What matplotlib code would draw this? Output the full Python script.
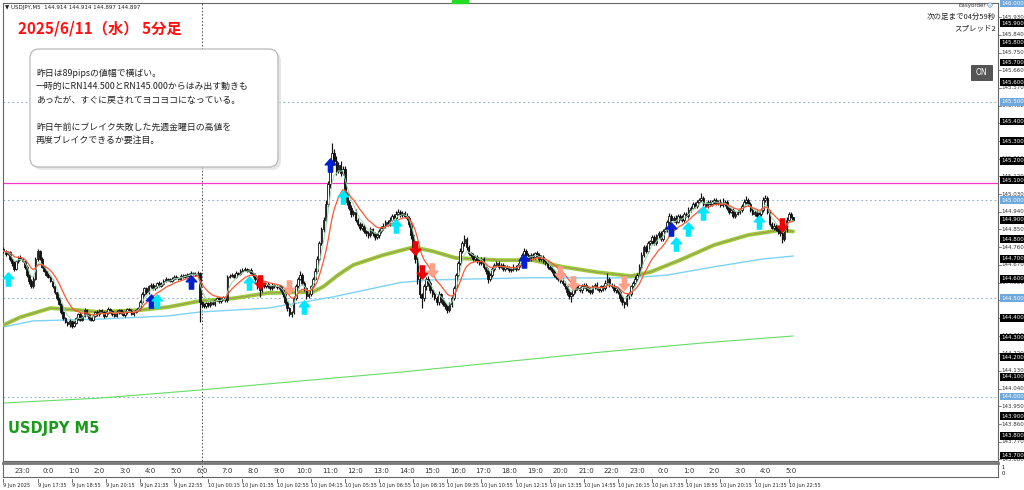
import numpy as np
import pandas as pd
import matplotlib
matplotlib.use("Agg")
import matplotlib.pyplot as plt
from matplotlib.path import Path
from matplotlib.patches import FancyBboxPatch, Rectangle

plt.rcParams['font.family'] = ['Noto Sans CJK JP', 'DejaVu Sans']

BASE = 144.0  # closes / wicks below are in 0.001 units above 144.000

closes = [
    740, 725, 735, 700, 680, 650, 690, 710, 700, 690, 660, 620, 590, 560, 600, 700, 740,
    700, 660, 640, 620, 610, 590, 560, 530, 500, 470,
    430, 400, 380, 370, 385, 360, 375, 400, 420, 390, 410, 440, 420, 400, 390, 410,
    430, 420, 440, 430, 410, 425, 445, 435, 420, 410, 430, 440, 425, 415, 430, 445, 435, 420, 430, 440, 450,
    480, 520, 550, 530, 560, 570, 550, 560, 580, 565, 575, 590,
    600, 595, 590, 600, 610, 605, 600, 615, 610, 620, 615, 625, 630, 625, 620, 630,
    480, 470, 460, 475, 465, 480, 470, 490, 500, 485, 495, 505, 490,
    610, 615, 620, 610, 630, 625, 640, 645, 650, 640, 645, 630, 620, 600, 560, 540,
    570, 560, 575, 560, 550, 570, 560, 555, 560, 540, 520, 480, 450, 420, 430,
    500, 560, 600, 620, 580, 550, 510, 520, 560, 600, 640, 700, 780, 850, 900,
    980, 1080, 1180, 1240, 1200, 1150, 1180, 1140, 1160, 1030, 990,
    960, 930, 940, 900, 880, 860, 870, 840, 830, 820, 850, 830, 810, 820, 840,
    860, 870, 890, 880, 900, 920, 910, 930, 940, 925, 935, 920, 910,
    880, 820, 760, 700, 600, 520, 500, 560, 600, 580, 540, 520,
    500, 480, 520, 490, 470, 460, 440, 470, 500, 550, 620, 680, 740, 780, 800, 760, 730,
    720, 700, 710, 690, 680, 700, 660, 640, 600, 620, 650,
    670, 680, 660, 670, 650, 660, 655, 645, 650, 660, 650, 670, 700, 720, 740, 720,
    700, 720, 710, 730, 720, 700, 710, 690, 680, 660, 650, 640, 620, 610, 600, 590, 580,
    560, 530, 510, 520, 540,
    560, 550, 540, 560, 570, 550, 540, 530, 560, 570, 550, 540, 560, 550, 580, 600,
    570, 560, 540, 550, 530, 500, 480, 470, 510, 520, 560, 580, 600, 620,
    660, 720, 760, 740, 780, 790, 810, 780, 820, 830, 800, 840, 850, 890, 920, 900,
    910, 890, 920, 910, 900, 930, 920, 950, 960, 980, 970, 990, 1000, 1010,
    980, 970, 990, 980, 990, 1000, 985, 990, 975, 980, 990,
    960, 940, 950, 920, 930, 940, 950, 970, 990, 1000, 980,
    950, 930, 940, 920, 930, 950, 1000, 1010, 940, 880, 860, 870, 850,
    840, 830, 800, 850, 900, 930, 914, 897,
]

wick_up = [
    10, 6, 8, 5, 7, 12, 6, 5, 8, 6, 4, 7, 5, 6, 15, 12, 10, 6, 8, 5,
    6, 8, 5, 7, 6, 4, 8, 5, 6, 7, 5, 9, 6, 8, 5, 7, 10, 6, 8, 5,
    7, 5, 8, 6, 9, 5, 7, 6, 8, 10, 5, 6, 7, 9, 5, 6, 8, 7, 5, 6,
    8, 6, 7, 5, 9, 12, 8, 6, 7, 10, 6, 8, 5, 9, 6, 7, 8, 5, 6, 7,
    6, 8, 5, 7, 9, 6, 8, 5, 7, 6, 8, 10, 6, 5, 7, 6, 8, 5, 6, 7,
    8, 5, 6, 7, 9, 10, 6, 8, 5, 7, 6, 8, 7, 9, 6, 5, 8, 6, 7, 5,
    7, 6, 8, 5, 6, 7, 9, 5, 6, 8, 7, 6, 5, 8, 6, 7, 10, 12, 8, 20,
    10, 6, 8, 7, 9, 10, 12, 15, 10, 12, 15, 20, 18, 15, 50, 20, 25, 15, 20, 12,
    15, 12, 10, 15, 8, 12, 10, 8, 12, 10, 8, 12, 15, 10, 8, 12, 10, 8, 12, 10,
    8, 12, 10, 8, 12, 15, 10, 8, 10, 12, 8, 10, 12, 8, 10, 12, 8, 15, 10, 12,
    10, 8, 12, 10, 15, 8, 10, 12, 8, 10, 12, 15, 10, 12, 15, 12, 20, 10, 12, 8,
    10, 12, 8, 10, 12, 8, 10, 12, 10, 8, 10, 12, 8, 10, 12, 8, 10, 8, 10, 12,
    8, 10, 12, 10, 15, 10, 8, 12, 10, 8, 12, 10, 8, 12, 10, 8, 10, 12, 8, 10,
    8, 10, 12, 8, 10, 12, 10, 8, 12, 10, 8, 12, 10, 8, 10, 12, 8, 10, 12, 8,
    10, 8, 12, 30, 10, 8, 12, 10, 8, 10, 12, 8, 10, 12, 8, 10, 12, 10, 12, 15,
    10, 12, 10, 8, 12, 10, 8, 12, 10, 15, 12, 10, 15, 10, 8, 12, 10, 8, 12, 10,
    8, 12, 10, 8, 12, 10, 12, 25, 10, 8, 12, 10, 8, 12, 10, 8, 15, 30, 10, 8,
    12, 10, 8, 12, 10, 8, 12, 15, 20, 10, 8, 12, 10, 8, 12, 10, 15, 15, 10, 8,
    10, 12, 8, 10, 12, 8, 10, 12, 10, 8, 0,
]

wick_dn = [
    8, 10, 6, 12, 15, 10, 6, 8, 5, 7, 10, 12, 15, 10, 6, 5, 8, 7, 6, 8,
    6, 7, 8, 6, 7, 8, 6, 10, 8, 7, 12, 15, 10, 8, 6, 10, 8, 7, 6, 8,
    10, 8, 6, 7, 8, 10, 6, 8, 7, 6, 8, 10, 7, 6, 8, 7, 6, 8, 10, 7,
    6, 8, 7, 6, 8, 7, 6, 8, 10, 6, 7, 8, 6, 7, 8, 6, 7, 8, 6, 7,
    8, 6, 7, 8, 6, 7, 8, 6, 7, 8, 6, 7, 100, 12, 8, 10, 7, 8, 6, 7,
    6, 8, 7, 6, 8, 7, 6, 8, 7, 6, 8, 7, 6, 8, 7, 6, 8, 10, 12, 15,
    35, 10, 8, 7, 10, 8, 7, 10, 8, 7, 10, 12, 10, 15, 12, 15, 8, 10, 8, 7,
    10, 12, 15, 10, 8, 10, 8, 10, 12, 10, 15, 12, 15, 20, 15, 20, 25, 15, 20, 15,
    20, 15, 12, 15, 10, 12, 10, 15, 12, 10, 12, 15, 10, 12, 15, 10, 12, 10, 12, 10,
    12, 10, 8, 12, 10, 8, 12, 10, 8, 10, 15, 20, 15, 20, 25, 20, 50, 15, 20, 15,
    12, 15, 10, 12, 15, 12, 10, 15, 15, 10, 12, 10, 12, 10, 12, 10, 12, 15, 10, 12,
    10, 12, 10, 12, 10, 12, 15, 22, 10, 12, 10, 12, 10, 8, 12, 10, 8, 10, 12, 10,
    10, 8, 12, 10, 8, 10, 12, 10, 8, 10, 12, 10, 8, 10, 12, 10, 8, 10, 12, 10,
    12, 10, 12, 15, 12, 15, 30, 10, 12, 10, 8, 12, 10, 12, 10, 8, 10, 12, 10, 8,
    10, 12, 8, 10, 12, 10, 8, 12, 10, 15, 12, 20, 10, 12, 10, 8, 12, 10, 8, 12,
    10, 12, 10, 8, 12, 10, 8, 12, 10, 8, 10, 12, 10, 8, 12, 10, 8, 10, 12, 10,
    8, 10, 12, 8, 10, 12, 8, 10, 12, 8, 10, 12, 8, 10, 12, 8, 10, 8, 10, 12,
    10, 8, 12, 10, 8, 10, 12, 8, 10, 12, 10, 8, 12, 10, 8, 10, 12, 8, 10, 12,
    10, 12, 10, 15, 12, 20, 10, 12, 10, 8, 0,
]

# slow moving averages (bar index, price)
ma_mid_bars = [0, 8, 22, 35, 45, 64, 77, 92, 108, 124, 145, 150, 157, 164, 178, 192, 201, 212,
               232, 248, 262, 278, 294, 303, 317, 333, 349, 364, 370]
ma_mid_vals = [144.364, 144.404, 144.450, 144.440, 144.430, 144.440, 144.455, 144.486, 144.500,
               144.527, 144.532, 144.560, 144.620, 144.670, 144.720, 144.760, 144.740, 144.705,
               144.694, 144.694, 144.660, 144.633, 144.613, 144.633, 144.694, 144.771, 144.822,
               144.847, 144.840]
ma_blue_bars = [0, 14, 45, 77, 92, 124, 154, 186, 200, 248, 278, 294, 311, 333, 356, 370]
ma_blue_vals = [144.354, 144.385, 144.394, 144.410, 144.430, 144.450, 144.506, 144.580, 144.593,
                144.605, 144.603, 144.604, 144.618, 144.660, 144.700, 144.715]
ma_long_bars = [0, 45, 92, 139, 186, 233, 280, 327, 370]
ma_long_vals = [143.967, 143.992, 144.033, 144.079, 144.124, 144.175, 144.226, 144.272, 144.308]

# signal arrows: bar, price, kind
sig_bars = [2, 69, 72, 88, 115, 120, 134, 141, 153, 159, 184, 193, 196, 201, 244, 261, 267, 291,
            313, 315, 321, 328, 354, 365]
sig_price = [144.598, 144.486, 144.486, 144.583, 144.578, 144.583, 144.557, 144.455, 145.178,
             145.015, 144.868, 144.756, 144.634, 144.644, 144.690, 144.628, 144.578, 144.578,
             144.852, 144.776, 144.852, 144.934, 144.888, 144.873]
sig_kind = ['cyan', 'blue', 'cyan', 'blue', 'cyan', 'red', 'salmon', 'cyan', 'blue', 'cyan', 'cyan',
            'red', 'red', 'salmon', 'blue', 'salmon', 'salmon', 'salmon', 'blue', 'cyan', 'cyan',
            'cyan', 'cyan', 'red']

axis_ticks = [143.680, 143.770, 143.860, 143.950, 144.040, 144.130, 144.220, 144.310, 144.400,
              144.490, 144.580, 144.670, 144.760, 144.850, 144.940, 145.030, 145.120, 145.210,
              145.300, 145.390, 145.480, 145.570, 145.660, 145.750, 145.840, 145.930]
black_levels = [143.7, 143.8, 143.9, 144.1, 144.2, 144.3, 144.4, 144.6, 144.7, 144.8, 144.9,
                145.1, 145.2, 145.3, 145.4, 145.6, 145.7, 145.8, 145.9]
blue_levels = [144.0, 144.5, 145.0, 145.5, 146.0]
magenta_level = 145.086

hour_labels = ["%d:0" % ((23 + k) % 24) for k in range(31)]
date_labels = ["9 Jun 2025", "9 Jun 17:35", "9 Jun 18:55", "9 Jun 20:15", "9 Jun 21:35",
               "9 Jun 22:55", "10 Jun 00:15", "10 Jun 01:35", "10 Jun 02:55", "10 Jun 04:15",
               "10 Jun 05:35", "10 Jun 06:55", "10 Jun 08:15", "10 Jun 09:35", "10 Jun 10:55",
               "10 Jun 12:15", "10 Jun 13:35", "10 Jun 14:55", "10 Jun 16:15", "10 Jun 17:35",
               "10 Jun 18:55", "10 Jun 20:15", "10 Jun 21:35", "10 Jun 22:55"]

memo = ["昨日は89pipsの値幅で横ばい。",
        "一時的にRN144.500とRN145.000からはみ出す動きも",
        "あったが、すぐに戻されてヨコヨコになっている。",
        "",
        "昨日午前にブレイク失敗した先週金曜日の高値を",
        "再度ブレイクできるか要注目。"]

# ---- build candles
c = BASE + np.array(closes) / 1000.0
o = np.concatenate([[c[0] + 0.010], c[:-1]])
hi = np.maximum(o, c) + np.array(wick_up) / 1000.0
lo = np.minimum(o, c) - np.array(wick_dn) / 1000.0
n = len(c)
x = np.arange(n)

ema_fast = pd.Series(c).ewm(span=5, adjust=False).mean()
ema_red = pd.Series(c).ewm(span=12, adjust=False).mean()

W, H = 1024, 490
fig = plt.figure(figsize=(W / 100, H / 100), dpi=100)
fig.patch.set_facecolor('white')

def px_rect(l, t, r, b):
    return [l / W, 1 - b / H, (r - l) / W, (b - t) / H]

ax = fig.add_axes(px_rect(3, 3, 998, 461))
sub = fig.add_axes(px_rect(3, 463, 998, 477))
ov = fig.add_axes([0, 0, 1, 1], zorder=10)
ov.set_xlim(0, W)
ov.set_ylim(H, 0)
ov.axis('off')
ov.patch.set_alpha(0)

PPB = 2.134
ax.set_xlim(-0.2, -0.2 + 995 / PPB)
ax.set_ylim(143.672, 146.0025)
for a in (ax, sub):
    a.set_xticks([])
    a.set_yticks([])
    for s in a.spines.values():
        s.set_color('#666666')
        s.set_linewidth(0.8)
sub.set_xlim(ax.get_xlim())
sub.set_ylim(0, 1)
sub.spines['top'].set_linewidth(2)
sub.spines['top'].set_color('#777777')

# level lines
for lv in blue_levels[:-1]:
    ax.axhline(lv, color='#8fb0d0', lw=0.8, ls=(0, (1.5, 2.5)), zorder=1)
ax.axhline(magenta_level, color='#ff33cc', lw=0.9, zorder=2)
ax.axvline(93, color='#444444', lw=0.7, ls=(0, (1.5, 2)), zorder=1)
sub.axvline(93, color='#444444', lw=0.7, ls=(0, (1.5, 2)))

# moving averages
ax.plot(ma_long_bars, ma_long_vals, color='#66dd66', lw=0.8, zorder=2)
ax.plot(ma_blue_bars, ma_blue_vals, color='#7dd3f5', lw=1.0, zorder=2)
ax.plot(ma_mid_bars, ma_mid_vals, color='#99cc33', lw=2.8, zorder=3, solid_capstyle='round')
ax.plot(ma_mid_bars, ma_mid_vals, color='#b06090', lw=0.5, alpha=0.7, zorder=3)

# candles
ax.vlines(x, lo, hi, color='#111111', lw=0.85, zorder=4)
up = c >= o
body_b = np.minimum(o, c)
body_h = np.maximum(np.abs(c - o), 0.002)
ax.bar(x[up], body_h[up], bottom=body_b[up], width=0.75, color='white', edgecolor='#111111',
       linewidth=0.6, zorder=5)
ax.bar(x[~up], body_h[~up], bottom=body_b[~up], width=0.75, color='#111111', edgecolor='#111111',
       linewidth=0.6, zorder=5)

ax.plot(x, ema_fast, color='#9ad8b0', lw=0.7, zorder=6)
ax.plot(x, ema_red, color='#ff5533', lw=0.9, zorder=6)

# signal arrows
verts = [(0, 1), (0.8, 0.1), (0.32, 0.1), (0.32, -1), (-0.32, -1), (-0.32, 0.1), (-0.8, 0.1), (0, 1)]
codes = [Path.MOVETO] + [Path.LINETO] * 6 + [Path.CLOSEPOLY]
up_arrow = Path(verts, codes)
dn_arrow = Path([(vx, -vy) for vx, vy in verts], codes)
kind_style = {'cyan': ('#00e8ff', up_arrow), 'blue': ('#0020d0', up_arrow),
              'red': ('#ee0000', dn_arrow), 'salmon': ('#ff9f88', dn_arrow)}
for b, p, k in zip(sig_bars, sig_price, sig_kind):
    col, mk = kind_style[k]
    ax.plot([b], [p], marker=mk, markersize=9.5, color=col, mec=col, ls='none', zorder=7)

# right price axis
yt = ax.get_yaxis_transform()
for t in axis_ticks:
    ax.text(1.003, t, "%.3f" % t, transform=yt, fontsize=4, color='#333333', va='center',
            ha='left', clip_on=False, family='DejaVu Sans')
    ax.plot([1.0, 1.003], [t, t], transform=yt, color='#555555', lw=0.5, clip_on=False)
for t in black_levels:
    ax.text(1.003, t, "%.3f" % t, transform=yt, fontsize=4, color='white', va='center', ha='left',
            clip_on=False, family='DejaVu Sans',
            bbox=dict(boxstyle='square,pad=0.25', fc='black', ec='none'))
for t in blue_levels:
    ax.text(1.003, t, "%.3f" % t, transform=yt, fontsize=4, color='white', va='center', ha='left',
            clip_on=False, family='DejaVu Sans',
            bbox=dict(boxstyle='square,pad=0.25', fc='#6fa8dc', ec='none'))

# sub window hour labels
for k, lab in enumerate(hour_labels):
    sub.text(9 + 12 * k, 0.45, lab, fontsize=5, color='#333333', ha='center', va='center',
             family='DejaVu Sans')
sub.text(1.004, 0.7, "1", transform=sub.transAxes, fontsize=3.5, va='center', clip_on=False,
         family='DejaVu Sans')
sub.text(1.004, 0.25, "0", transform=sub.transAxes, fontsize=3.5, va='center', clip_on=False,
         family='DejaVu Sans')

# date axis
xt = ax.get_xaxis_transform()
for k, lab in enumerate(date_labels):
    bx = 16 * k
    ax.plot([bx, bx], [-0.045, -0.04], transform=xt, color='#333333', lw=0.5, clip_on=False)
    ax.text(bx, -0.053, lab, transform=xt, fontsize=3.6, color='#222222', ha='left', va='center',
            clip_on=False, family='DejaVu Sans')

# overlay texts
ov.text(5, 7, "▼ USDJPY,M5  144.914 144.914 144.897 144.897", fontsize=4, color='#222222',
        va='center', family=['DejaVu Sans'])
ov.text(18, 28, "2025/6/11（水） 5分足", fontsize=11, color='#ff1111', fontweight='bold',
        va='center')
ov.add_patch(Rectangle((452, 0), 16, 3, color='#22dd22', zorder=1))

ov.add_patch(FancyBboxPatch((33, 52), 248, 118, boxstyle='round,pad=0,rounding_size=9',
                            fc='#d8d8d8', ec='none', alpha=0.6, zorder=1))
ov.add_patch(FancyBboxPatch((30, 49), 248, 118, boxstyle='round,pad=0,rounding_size=9',
                            fc='white', ec='#b0b0b0', lw=0.8, zorder=2))
for i, line in enumerate(memo):
    ov.text(36, 73 + 13.5 * i, line, fontsize=6.4, color='#222222', va='center', zorder=3)

ov.text(8, 428, "USDJPY M5", fontsize=10.5, color='#1a9a1a', fontweight='bold', va='center',
        family=['DejaVu Sans'])

ov.text(986, 5, "Easyorder", fontsize=4, color='#333333', ha='right', va='center',
        family=['DejaVu Sans'])
ov.add_patch(plt.Circle((990, 5), 2.3, fc='#cfe3f5', ec='#6a8fb0', lw=0.4))
ov.text(996, 17, "次の足まで04分59秒", fontsize=5.4, color='#222222', ha='right', va='center')
ov.text(996, 28, "スプレッド2", fontsize=5.4, color='#222222', ha='right', va='center')
ov.add_patch(Rectangle((971, 65), 21, 15, fc='#555555', ec='#333333', lw=0.5))
ov.text(981.5, 72.5, "ON", fontsize=5.5, color='white', ha='center', va='center',
        family=['DejaVu Sans'])

fig.savefig("out.png", dpi=100, facecolor='white')
